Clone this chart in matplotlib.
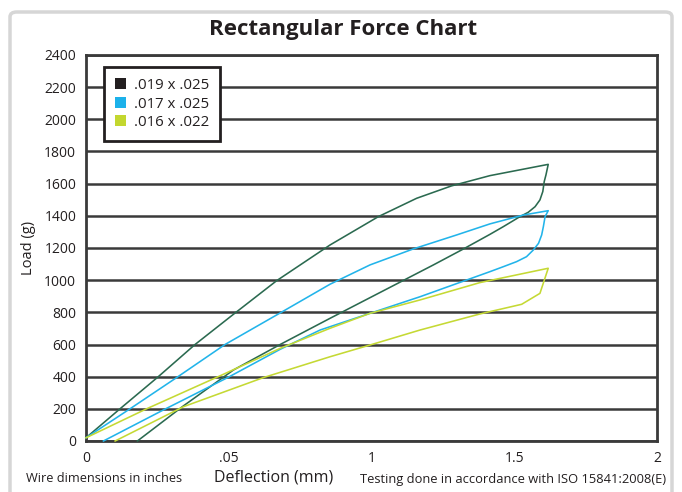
import matplotlib
matplotlib.use("Agg")
import matplotlib.pyplot as plt
from matplotlib.patches import FancyBboxPatch, Patch

plt.rcParams['font.family'] = ['Open Sans', 'DejaVu Sans']

title = "Rectangular Force Chart"
series_labels = [".019 x .025", ".017 x .025", ".016 x .022"]

# .019 x .025
g_load_x = [0, 0.119, 0.25, 0.382, 0.518, 0.668, 0.855, 1.024, 1.158, 1.28, 1.415, 1.619]
g_load_y = [20, 200, 395, 600, 790, 997, 1219, 1395, 1509, 1586, 1650, 1720]
g_unload_x = [1.619, 1.611, 1.605, 1.6, 1.59, 1.573, 1.549, 1.52, 1.462, 1.415, 1.322,
              1.217, 0.855, 0.68, 0.516, 0.341, 0.18]
g_unload_y = [1720, 1654, 1613, 1551, 1499, 1457, 1422, 1395, 1333, 1285, 1194,
              1095, 763, 600, 441, 218, 0]

# .017 x .025
b_load_x = [0, 0.154, 0.318, 0.487, 0.674, 0.855, 0.995, 1.146, 1.298, 1.415, 1.532, 1.619]
b_load_y = [20, 200, 395, 600, 790, 975, 1095, 1194, 1281, 1350, 1405, 1432]
b_unload_x = [1.619, 1.608, 1.602, 1.596, 1.585, 1.567, 1.543, 1.508, 1.462, 1.415,
              1.17, 0.995, 0.82, 0.68, 0.498, 0.271, 0.061]
b_unload_y = [1432, 1395, 1333, 1281, 1229, 1188, 1146, 1115, 1084, 1053,
              897, 794, 690, 570, 396, 193, 0]

# .016 x .022
y_load_x = [0, 0.212, 0.458, 0.68, 0.855, 0.995, 1.17, 1.38, 1.619]
y_load_y = [20, 200, 396, 576, 701, 794, 877, 985, 1074]
y_unload_x = [1.619, 1.59, 1.526, 1.38, 1.17, 0.995, 0.855, 0.621, 0.341, 0.102]
y_unload_y = [1074, 918, 850, 790, 690, 597, 524, 394, 213, 0]

x_ticks = [0, 0.5, 1, 1.5, 2]
x_tick_labels = ["0", ".05", "1", "1.5", "2"]
y_ticks = list(range(0, 2401, 200))

line_colors = ["#2b6a50", "#22b4ea", "#c5d934"]
legend_colors = ["#231f20", "#1cb1ea", "#c3d72f"]

fig = plt.figure(figsize=(6.82, 4.92), dpi=100)
ax = fig.add_axes([86/682, 51/492, 571/682, 386/492])

series = [
    (g_load_x + g_unload_x[1:], g_load_y + g_unload_y[1:]),
    (b_load_x + b_unload_x[1:], b_load_y + b_unload_y[1:]),
    (y_load_x + y_unload_x[1:], y_load_y + y_unload_y[1:]),
]
for (xs, ys), c in zip(series, line_colors):
    ax.plot(xs, ys, color=c, lw=1.15, zorder=3, clip_on=False,
            solid_joinstyle='round')

ax.set_xlim(0, 2)
ax.set_ylim(0, 2400)
ax.set_xticks(x_ticks)
ax.set_xticklabels(x_tick_labels)
ax.set_yticks(y_ticks)
ax.tick_params(length=0, labelsize=10, colors="#231f20", pad=7)
ax.yaxis.grid(True, color="#3a3a3a", lw=1.8)
ax.set_axisbelow(True)
for s in ax.spines.values():
    s.set_color("#3a3a3a")
    s.set_linewidth(2)

ax.set_ylabel("Load (g)", fontsize=10.5, color="#231f20", labelpad=6)

handles = [Patch(facecolor=c, edgecolor='none') for c in legend_colors]
leg = ax.legend(handles, series_labels, loc='upper left', bbox_to_anchor=(0.0315, 0.969),
                borderaxespad=0, fontsize=10.8, handlelength=0.75, handleheight=0.75,
                handletextpad=0.5, labelspacing=0.22, fancybox=False, framealpha=1,
                borderpad=0.75)
leg.get_frame().set_edgecolor("#231f20")
leg.get_frame().set_linewidth(2)
for t in leg.get_texts():
    t.set_color("#231f20")

fig.text(0.5 + 2/682, 1 - 30/492, title, ha='center', va='center', fontsize=16,
         fontweight='bold', color="#231f20")
fig.text(274/682, 1 - 478/492, "Deflection (mm)", ha='center', va='center', fontsize=11.5,
         color="#231f20")
fig.text(26/682, 1 - 479/492, "Wire dimensions in inches", ha='left', va='center', fontsize=9.2,
         color="#231f20")
fig.text(666/682, 1 - 479/492, "Testing done in accordance with ISO 15841:2008(E)", ha='right',
         va='center', fontsize=9.3, color="#231f20")

border = FancyBboxPatch((10/682, -0.05), 662/682, (492 - 12)/492 + 0.05,
                        boxstyle="round,pad=0,rounding_size=0.01",
                        transform=fig.transFigure, facecolor='none',
                        edgecolor="#d6d6d6", lw=2.5, clip_on=False)
fig.patches.append(border)

fig.savefig("out.png", dpi=100)
